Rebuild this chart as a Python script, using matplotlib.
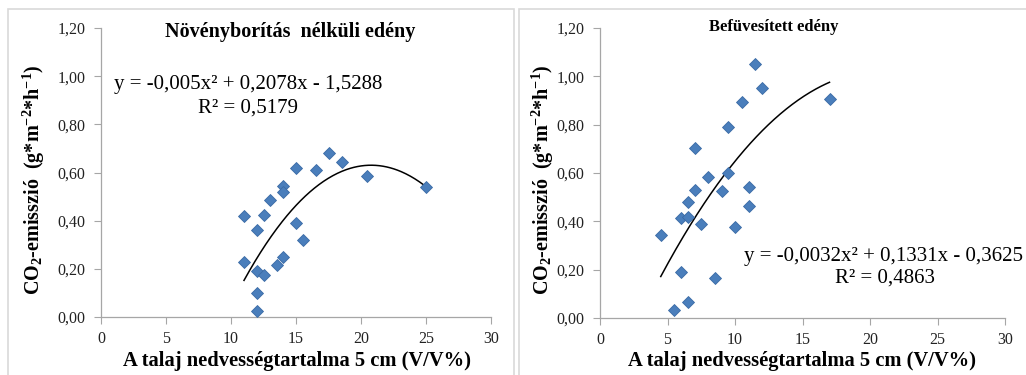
import numpy as np
import matplotlib
matplotlib.use("Agg")
import matplotlib.pyplot as plt
from matplotlib.patches import Rectangle

plt.rcParams['font.family'] = ['Liberation Serif', 'DejaVu Serif']
plt.rcParams['mathtext.fontset'] = 'custom'
plt.rcParams['mathtext.rm'] = 'Liberation Serif'
plt.rcParams['mathtext.bf'] = 'Liberation Serif:bold'
plt.rcParams['mathtext.it'] = 'Liberation Serif:italic'

# ---- data ----
left_title = "Növényborítás  nélküli edény"
left_x = [11, 11, 12, 12, 12, 12, 12.5, 12.5, 13, 13.5, 14, 14, 14, 15, 15, 15.5,
          16.5, 17.5, 18.5, 20.5, 25]
left_y = [0.42, 0.23, 0.36, 0.19, 0.10, 0.025, 0.425, 0.175, 0.485, 0.215, 0.545,
          0.52, 0.25, 0.62, 0.39, 0.32, 0.61, 0.68, 0.645, 0.585, 0.54]
left_coef = [-0.005, 0.2078, -1.5288]
left_eq = "y = -0,005x² + 0,2078x - 1,5288"
left_r2 = "R² = 0,5179"

right_title = "Befüvesített edény"
right_x = [4.5, 5.5, 6, 6, 6.5, 6.5, 6.5, 7, 7, 7.5, 8, 8.5, 9, 9.5, 9.5, 10,
           10.5, 11, 11, 11.5, 12, 17]
right_y = [0.345, 0.035, 0.415, 0.19, 0.48, 0.42, 0.065, 0.705, 0.53, 0.39, 0.585,
           0.165, 0.525, 0.79, 0.60, 0.375, 0.895, 0.54, 0.465, 1.05, 0.95, 0.905]
right_coef = [-0.0032, 0.1331, -0.3625]
right_eq = "y = -0,0032x² + 0,1331x - 0,3625"
right_r2 = "R² = 0,4863"

x_ticks = [0, 5, 10, 15, 20, 25, 30]
y_ticks = [0.0, 0.2, 0.4, 0.6, 0.8, 1.0, 1.2]
y_tick_labels = ["0,00", "0,20", "0,40", "0,60", "0,80", "1,00", "1,20"]
x_label = "A talaj nedvességtartalma 5 cm (V/V%)"
y_label = r"CO$_{\mathbf{2}}$-emisszió  (g*m$^{\mathbf{-2}}$*h$^{\mathbf{-1}}$)"

W, H = 1026, 375
fig = plt.figure(figsize=(W / 100, H / 100), dpi=100)

# chart area borders
border = '#D9D9D9'
fig.patches.append(Rectangle((8 / W, -0.05), (514 - 8) / W, 1.05 - 9 / H,
                             transform=fig.transFigure, fill=False,
                             edgecolor=border, lw=1.2))
fig.patches.append(Rectangle((519 / W, -0.05), 0.6, 1.05 - 9 / H,
                             transform=fig.transFigure, fill=False,
                             edgecolor=border, lw=1.2))

def px_axes(x0, x1, y0, y1):
    return fig.add_axes([x0 / W, 1 - y1 / H, (x1 - x0) / W, (y1 - y0) / H])

ax1 = px_axes(101, 491, 28, 317)
ax2 = px_axes(600, 1005, 28, 318)

def style(ax):
    ax.set_xlim(0, 30)
    ax.set_ylim(0, 1.2)
    ax.set_xticks(x_ticks)
    ax.set_xticklabels([str(t) for t in x_ticks])
    ax.set_yticks(y_ticks)
    ax.set_yticklabels(y_tick_labels)
    for s in ['top', 'right']:
        ax.spines[s].set_visible(False)
    for s in ['left', 'bottom']:
        ax.spines[s].set_color('#A6A6A6')
        ax.spines[s].set_linewidth(0.9)
    ax.tick_params(axis='both', direction='out', length=5, width=0.8,
                   color='#A6A6A6', labelsize=11.5, labelcolor='#222222')
    ax.tick_params(axis='x', pad=5)
    ax.tick_params(axis='y', pad=6)
    ax.set_facecolor('none')

def draw(ax, xs, ys, coef):
    xs = np.asarray(xs, float)
    xx = np.linspace(xs.min(), xs.max(), 200)
    ax.plot(xx, np.polyval(coef, xx), color='black', lw=1.1, zorder=2)
    ax.plot(xs, ys, linestyle='none', marker='D', ms=6.3, color='#4A7EBB',
            markeredgecolor='#3A6AA5', markeredgewidth=0.6, zorder=3)

for ax in (ax1, ax2):
    style(ax)

draw(ax1, left_x, left_y, left_coef)
draw(ax2, right_x, right_y, right_coef)

# titles
fig.text(290 / W, 1 - 32 / H, left_title, ha='center', va='center',
         fontsize=14.5, fontweight='bold')
fig.text(774 / W, 1 - 27 / H, right_title, ha='center', va='center',
         fontsize=12, fontweight='bold')

# equations
fig.text(248 / W, 1 - 85 / H, left_eq, ha='center', va='center', fontsize=15)
fig.text(248 / W, 1 - 108 / H, left_r2, ha='center', va='center', fontsize=15)
fig.text(884 / W, 1 - 257 / H, right_eq, ha='center', va='center', fontsize=15)
fig.text(885 / W, 1 - 278 / H, right_r2, ha='center', va='center', fontsize=15)

# axis labels
for cx in (297, 802):
    fig.text(cx / W, 1 - 361 / H, x_label, ha='center', va='center',
             fontsize=14.8, fontweight='bold')
for cx, cy in ((34, 180), (543, 180)):
    fig.text(cx / W, 1 - cy / H, y_label, ha='center', va='center',
             fontsize=14.5, fontweight='bold', rotation=90)

fig.savefig('out.png', dpi=100)
